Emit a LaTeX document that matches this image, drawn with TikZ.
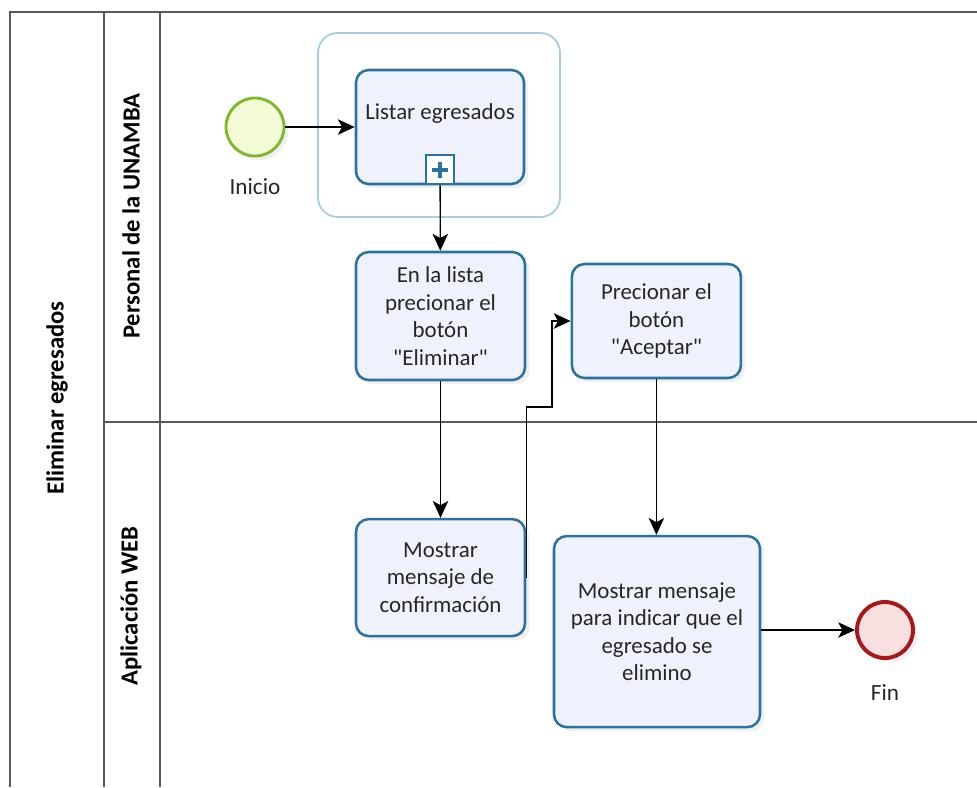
\documentclass[tikz,border=0pt]{standalone}
\usepackage{fontspec}
\setmainfont{Carlito}
\usepackage{tikz}
\usetikzlibrary{arrows.meta}
\usetikzlibrary{positioning}
\usetikzlibrary{shadows}

\definecolor{TaskLine}{HTML}{2A73A0}
\definecolor{TaskFill}{HTML}{EFF2FC}
\definecolor{GroupLine}{HTML}{A8CDE0}
\definecolor{StartLine}{HTML}{7DB82A}
\definecolor{StartFill}{HTML}{F2FAD6}
\definecolor{EndLine}{HTML}{A81818}
\definecolor{EndFill}{HTML}{F8E0E0}
\definecolor{PoolLine}{HTML}{5A5A5A}

\begin{document}
\begin{tikzpicture}

	\tikzset{TaskStyle/.style = {shape          = rectangle,
			rounded corners = 9pt,
			draw           = TaskLine,
			line width     = 1.8pt,
			fill           = TaskFill,
			align          = center,
			text           = black!85,
			font           = \fontsize{16.3}{19.5}\selectfont,
			drop shadow    = {opacity = 0.12, shadow xshift = 3pt, shadow yshift = -3pt}}}

	\tikzset{EventStyle/.style = {shape          = circle,
			minimum size   = 1.4cm,
			drop shadow    = {opacity = 0.12, shadow xshift = 3pt, shadow yshift = -3pt}}}

	\tikzset{LabelStyle/.style = {text = black!85, font = \fontsize{16.5}{19}\selectfont}}

	\tikzset{LaneStyle/.style = {rotate = 90, font = \fontsize{17.5}{20}\selectfont\bfseries}}

	\tikzset{PoolStyle/.style = {draw = PoolLine, line width = 1pt}}

	\tikzset{FlowStyle/.style = {line width = 1pt, -{Stealth[length = 12pt, width = 11pt, inset = 3pt]}}}

	\useasboundingbox (0,0) rectangle (24.425,-19.675);

	\draw[PoolStyle] (24.425,-0.3) -- (0.25,-0.3) -- (0.25,-19.675);
	\draw[PoolStyle] (2.6,-0.3) -- (2.6,-19.675);
	\draw[PoolStyle] (4.0,-0.3) -- (4.0,-19.675);
	\draw[PoolStyle] (2.6,-10.55) -- (24.425,-10.55);

	\node[LaneStyle] (pool) at (1.425,-9.95) {Eliminar egresados};
	\node[LaneStyle] (lane1) at (3.275,-5.4) {Personal de la UNAMBA};
	\node[LaneStyle] (lane2) at (3.275,-15.15) {Aplicación WEB};

	\node[draw = GroupLine, line width = 1.3pt, rounded corners = 14pt, minimum width = 6.05cm, minimum height = 4.6cm] (grupo) at (10.975,-3.125) {};

	\node[EventStyle, draw = StartLine, line width = 2pt, fill = StartFill, minimum size = 1.45cm] (inicio) at (6.375,-3.175) {};
	\node[LabelStyle, below = 0.4cm of inicio] (inicioTxt) {Inicio};

	\node[TaskStyle, minimum width = 4.2cm, minimum height = 2.85cm] (listar) at (11.0,-3.175) {\raisebox{0.18cm}[0pt][0pt]{Listar egresados}};
	\node[draw = TaskLine, line width = 1.5pt, fill = white, minimum size = 0.72cm, inner sep = 0pt, anchor = south] (marca) at (listar.south) {};
	\draw[TaskLine, line width = 3pt] ([xshift = -0.2cm]marca.center) -- ([xshift = 0.2cm]marca.center);
	\draw[TaskLine, line width = 3pt] ([yshift = -0.2cm]marca.center) -- ([yshift = 0.2cm]marca.center);

	\node[TaskStyle, minimum width = 4.225cm, minimum height = 3.2cm] (eliminar) at (11.0125,-7.9) {En la lista\\precionar el\\botón\\\textquotedbl Eliminar\textquotedbl};
	\node[TaskStyle, minimum width = 4.225cm, minimum height = 2.85cm] (aceptar) at (16.41,-8.025) {Precionar el\\botón\\\textquotedbl Aceptar\textquotedbl};
	\node[TaskStyle, minimum width = 4.225cm, minimum height = 2.925cm] (confirmar) at (11.0125,-14.44) {Mostrar\\mensaje de\\confirmación};
	\node[TaskStyle, minimum width = 5.15cm, minimum height = 4.775cm] (indicar) at (16.425,-15.79) {Mostrar mensaje\\para indicar que el\\egresado se\\elimino};

	\node[EventStyle, draw = EndLine, line width = 2.8pt, fill = EndFill] (fin) at (22.125,-15.75) {};
	\node[LabelStyle, below = 0.5cm of fin] (finTxt) {Fin};

	\coordinate (codo) at (13.8,-10.175);

	\draw[FlowStyle] (inicio) -- (listar);
	\draw[FlowStyle] (listar) -- (eliminar);
	\draw[FlowStyle] (eliminar) -- (confirmar);
	\draw[FlowStyle] (confirmar.east) |- (codo) |- (aceptar.west);
	\draw[FlowStyle] (aceptar) -- (aceptar |- indicar.north);
	\draw[FlowStyle] (indicar.east |- fin) -- (fin);

\end{tikzpicture}
\end{document}
